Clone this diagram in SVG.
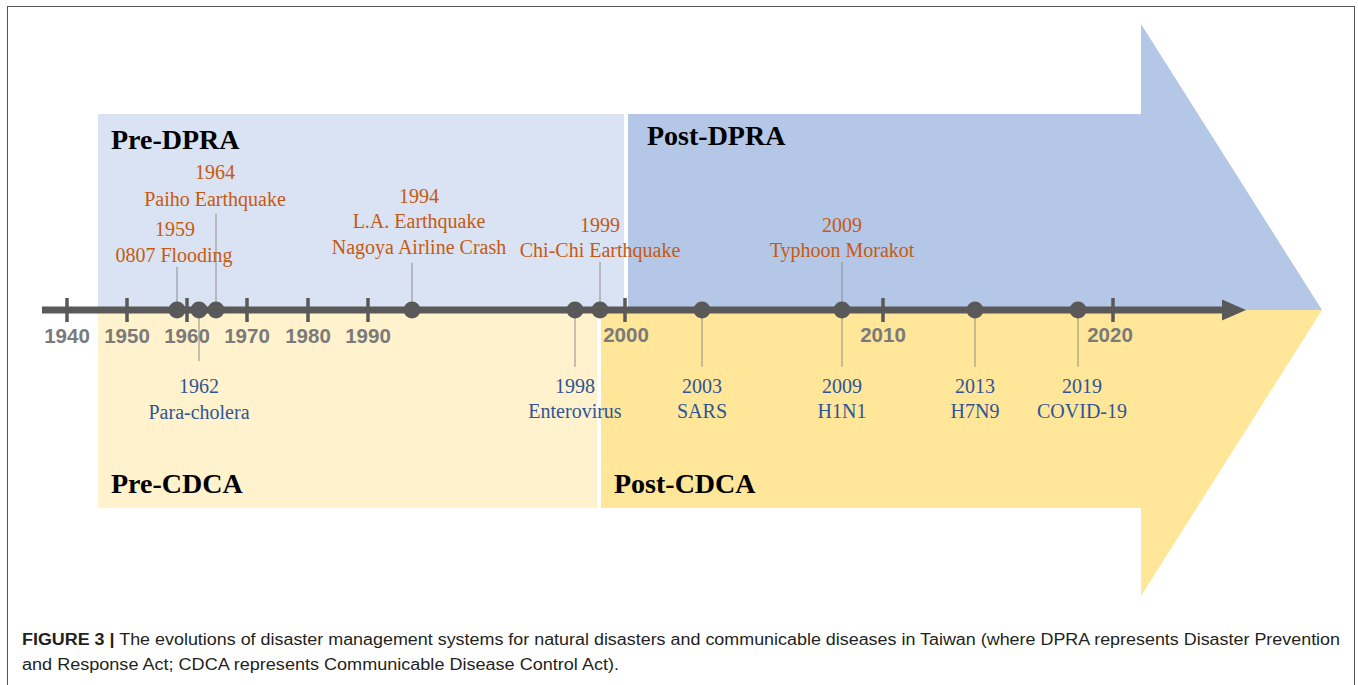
<svg xmlns="http://www.w3.org/2000/svg" width="1358" height="685" viewBox="0 0 1358 685">
<defs>
<style>
.hdr{font-family:"Liberation Serif","Times New Roman",serif;font-weight:bold;font-size:28px;fill:#000}
.ev{font-family:"Liberation Serif","Times New Roman",serif;font-size:20px;text-anchor:middle}
.nat{fill:#c55a11}
.dis{fill:#2f5597}
.yr{font-family:"Liberation Sans",Arial,sans-serif;font-weight:bold;font-size:20.5px;fill:#7a7a7a;text-anchor:middle}
.tick{stroke:#595959;stroke-width:3.5}
.lead{stroke:#8c8c8c;stroke-width:1}
.dot{fill:#595959}
.cap{font-family:"Liberation Sans",Arial,sans-serif;font-size:16px;fill:#231f20}
</style>
<marker id="ah" viewBox="0 0 10 10" refX="10" refY="5" markerWidth="3.4" markerHeight="3" orient="auto" markerUnits="strokeWidth">
<path d="M0,0 L10,5 L0,10 z" fill="#595959"/>
</marker>
</defs>
<rect x="0" y="0" width="1358" height="685" fill="#fff"/>
<rect x="7.5" y="6.5" width="1347" height="720" fill="none" stroke="#555" stroke-width="1"/>

<g id="regions">
<rect id="pre-dpra" x="98" y="114" width="526" height="196" fill="#dae3f3"/>
<polygon id="post-dpra" points="628,114 1141,114 1141,24 1322,310 628,310" fill="#b4c7e7"/>
<rect id="pre-cdca" x="98" y="310" width="499" height="198" fill="#fff2cc"/>
<polygon id="post-cdca" points="601,310 1322,310 1141,596 1141,508 601,508" fill="#ffe699"/>
</g>

<g id="headers">
<text class="hdr" x="111" y="149">Pre-DPRA</text>
<text class="hdr" x="647" y="145">Post-DPRA</text>
<text class="hdr" x="111" y="493">Pre-CDCA</text>
<text class="hdr" x="614" y="493">Post-CDCA</text>
</g>

<g id="connectors">
<line x1="42" y1="310" x2="1222" y2="310" stroke="#595959" stroke-width="7"/>
<polygon points="1222,299.5 1246,310 1222,320.5" fill="#595959"/>
<g id="ticks">
<line class="tick" x1="67" y1="298" x2="67" y2="322"/>
<line class="tick" x1="127" y1="298" x2="127" y2="322"/>
<line class="tick" x1="187" y1="298" x2="187" y2="322"/>
<line class="tick" x1="247" y1="298" x2="247" y2="322"/>
<line class="tick" x1="308" y1="298" x2="308" y2="322"/>
<line class="tick" x1="368" y1="298" x2="368" y2="322"/>
<line class="tick" x1="625" y1="298" x2="625" y2="322"/>
<line class="tick" x1="883" y1="298" x2="883" y2="322"/>
<line class="tick" x1="1113" y1="298" x2="1113" y2="322"/>
</g>
<g id="leaders">
<line class="lead" x1="177" y1="267" x2="177" y2="310"/>
<line class="lead" x1="216" y1="214" x2="216" y2="310"/>
<line class="lead" x1="199" y1="310" x2="199" y2="361"/>
<line class="lead" x1="412" y1="263" x2="412" y2="310"/>
<line class="lead" x1="575" y1="310" x2="575" y2="367"/>
<line class="lead" x1="600" y1="262" x2="600" y2="310"/>
<line class="lead" x1="702" y1="310" x2="702" y2="367"/>
<line class="lead" x1="842" y1="262" x2="842" y2="367"/>
<line class="lead" x1="975" y1="310" x2="975" y2="367"/>
<line class="lead" x1="1078" y1="310" x2="1078" y2="367"/>
</g>
</g>

<g id="years">
<text class="yr" x="67" y="343">1940</text>
<text class="yr" x="127" y="343">1950</text>
<text class="yr" x="187" y="343">1960</text>
<text class="yr" x="247" y="343">1970</text>
<text class="yr" x="308" y="343">1980</text>
<text class="yr" x="368" y="343">1990</text>
<text class="yr" x="626" y="342">2000</text>
<text class="yr" x="883" y="342">2010</text>
<text class="yr" x="1110" y="342">2020</text>
</g>

<g id="ev-1959">
<circle class="dot" cx="177" cy="310" r="8.5"/>
<text class="ev nat" x="175" y="236">1959</text>
<text class="ev nat" x="174" y="262">0807 Flooding</text>
</g>
<g id="ev-1962">
<circle class="dot" cx="199" cy="310" r="8.5"/>
<text class="ev dis" x="199" y="393">1962</text>
<text class="ev dis" x="199" y="419">Para-cholera</text>
</g>
<g id="ev-1964">
<circle class="dot" cx="216" cy="310" r="8.5"/>
<text class="ev nat" x="215" y="179">1964</text>
<text class="ev nat" x="215" y="206">Paiho Earthquake</text>
</g>
<g id="ev-1994">
<circle class="dot" cx="412" cy="310" r="8.5"/>
<text class="ev nat" x="419" y="203">1994</text>
<text class="ev nat" x="419" y="228">L.A. Earthquake</text>
<text class="ev nat" x="419" y="254">Nagoya Airline Crash</text>
</g>
<g id="ev-1998">
<circle class="dot" cx="575" cy="310" r="8.5"/>
<text class="ev dis" x="575" y="393">1998</text>
<text class="ev dis" x="575" y="418">Enterovirus</text>
</g>
<g id="ev-1999">
<circle class="dot" cx="600" cy="310" r="8.5"/>
<text class="ev nat" x="600" y="232">1999</text>
<text class="ev nat" x="600" y="257">Chi-Chi Earthquake</text>
</g>
<g id="ev-2003">
<circle class="dot" cx="702" cy="310" r="8.5"/>
<text class="ev dis" x="702" y="393">2003</text>
<text class="ev dis" x="702" y="418">SARS</text>
</g>
<g id="ev-2009-morakot">
<circle class="dot" cx="842" cy="310" r="8.5"/>
<text class="ev nat" x="842" y="232">2009</text>
<text class="ev nat" x="842" y="257">Typhoon Morakot</text>
</g>
<g id="ev-2009-h1n1">
<text class="ev dis" x="842" y="393">2009</text>
<text class="ev dis" x="842" y="418">H1N1</text>
</g>
<g id="ev-2013">
<circle class="dot" cx="975" cy="310" r="8.5"/>
<text class="ev dis" x="975" y="393">2013</text>
<text class="ev dis" x="975" y="418">H7N9</text>
</g>
<g id="ev-2019">
<circle class="dot" cx="1078" cy="310" r="8.5"/>
<text class="ev dis" x="1082" y="393">2019</text>
<text class="ev dis" x="1082" y="418">COVID-19</text>
</g>

<g id="caption">
<text class="cap" x="22" y="645" textLength="1318" lengthAdjust="spacingAndGlyphs"><tspan font-weight="bold">FIGURE 3 |</tspan> The evolutions of disaster management systems for natural disasters and communicable diseases in Taiwan (where DPRA represents Disaster Prevention</text>
<text class="cap" x="22" y="670" textLength="597" lengthAdjust="spacingAndGlyphs">and Response Act; CDCA represents Communicable Disease Control Act).</text>
</g>
</svg>
